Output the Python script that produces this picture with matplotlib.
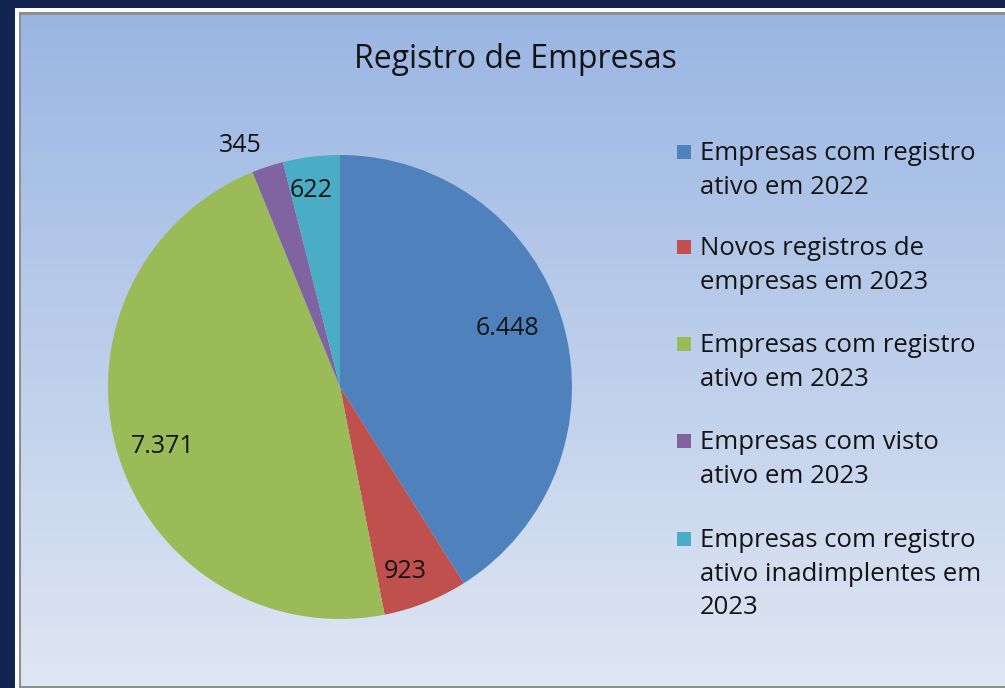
import numpy as np
import matplotlib
matplotlib.use("Agg")
import matplotlib.pyplot as plt
from matplotlib.patches import Rectangle

title = "Registro de Empresas"
categories = [
    "Empresas com registro\nativo em 2022",
    "Novos registros de\nempresas em 2023",
    "Empresas com registro\nativo em 2023",
    "Empresas com visto\nativo em 2023",
    "Empresas com registro\nativo inadimplentes em\n2023",
]
values = [6448, 923, 7371, 345, 622]
value_labels = ["6.448", "923", "7.371", "345", "622"]
colors = ["#4F81BD", "#C0504D", "#9BBB59", "#8064A2", "#4BACC6"]
# label placement (style): radius fraction and angular offset in degrees
label_radius = [0.77, 0.83, 0.80, 1.14, 0.87]
label_dangle = [4, -2, 1, 4, 1]

W, H = 1005, 688
plt.rcParams['font.family'] = ['Open Sans', 'DejaVu Sans']
fig = plt.figure(figsize=(W / 100, H / 100), dpi=100)
fig.patch.set_facecolor("#12244F")

def px(x0, y0, x1, y1):
    return [x0 / W, 1 - y1 / H, (x1 - x0) / W, (y1 - y0) / H]

# background axes in pixel coordinates (y down)
bg = fig.add_axes([0, 0, 1, 1], zorder=-10)
bg.set_axis_off()
bg.add_patch(Rectangle((15, 8), W + 20, H, facecolor="white", edgecolor="none"))
bg.add_patch(Rectangle((19, 12), W + 20, H, facecolor="#8E8E8E", edgecolor="none"))
grad = np.linspace(0, 1, 256).reshape(-1, 1)
top = np.array([0x9A, 0xB6, 0xE3]) / 255
bot = np.array([0xDF, 0xE6, 0xF3]) / 255
img = top[None, None, :] * (1 - grad[:, :, None]) + bot[None, None, :] * grad[:, :, None]
bg.imshow(img, aspect="auto", extent=[21, W + 20, 686, 15], origin="upper", zorder=2)
bg.set_xlim(0, W)
bg.set_ylim(H, 0)

# pie
cx, cy, r = 340, 387, 232
ax = fig.add_axes(px(cx - r, cy - r, cx + r, cy + r), zorder=1)
ax.set_facecolor("none")
wedges, _ = ax.pie(values, colors=colors, startangle=90, counterclock=False,
                   radius=1.0, wedgeprops=dict(linewidth=0))
ax.set_xlim(-1, 1)
ax.set_ylim(-1, 1)
ax.set_aspect("equal")
ax.set_axis_off()

total = sum(values)
cum = 0
for v, lab, lr, da in zip(values, value_labels, label_radius, label_dangle):
    mid = 90 - (cum + v / 2) / total * 360 + da
    cum += v
    a = np.deg2rad(mid)
    ax.text(lr * np.cos(a), lr * np.sin(a), lab, ha="center", va="center_baseline",
            fontsize=18, color="#141414", clip_on=False)

bg.text(515, 60, title, ha="center", va="center", fontsize=23, color="#141414", zorder=5)

# legend
entry_y = [152, 247, 344, 441, 539]
for y, lab, c in zip(entry_y, categories, colors):
    bg.add_patch(Rectangle((677, y - 7), 14, 14, facecolor=c, edgecolor="none", zorder=5))
    bg.text(700, y - 11, lab, ha="left", va="top", fontsize=18.5,
            color="#141414", linespacing=1.45, zorder=5)

fig.savefig("out.png", dpi=100, facecolor=fig.get_facecolor())
